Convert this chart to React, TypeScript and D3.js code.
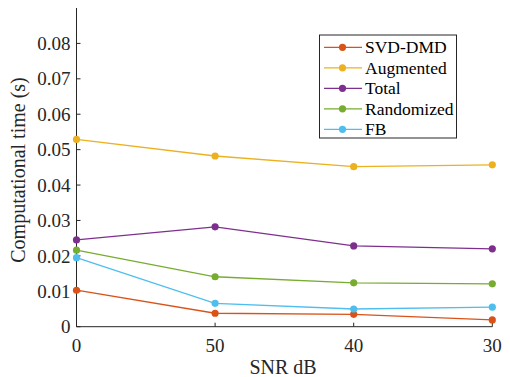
import React from "react";
import * as d3 from "d3";

const categories = ["0", "50", "40", "30"];
const yTicks = [0, 0.01, 0.02, 0.03, 0.04, 0.05, 0.06, 0.07, 0.08];
const seriesNames = ["SVD-DMD", "Augmented", "Total", "Randomized", "FB"];
const seriesColors = ["#D95319", "#EDB120", "#7E2F8E", "#77AC30", "#4DBEEE"];
const svdDmd = [0.0103, 0.0038, 0.0035, 0.0019];
const augmented = [0.0529, 0.0482, 0.0452, 0.0457];
const total = [0.0245, 0.0282, 0.0228, 0.022];
const randomized = [0.0216, 0.0141, 0.0124, 0.0121];
const fb = [0.0195, 0.0066, 0.005, 0.0055];
const seriesValues = [svdDmd, augmented, total, randomized, fb];

export default function App() {
  const W = 510, H = 377;
  const left = 76.5, right = 492.3, top = 8, bottom = 326.7;
  const x = d3.scalePoint<string>().domain(categories).range([left, right]);
  const y = d3.scaleLinear().domain([0, 0.09]).range([bottom, top]);
  const line = d3.line<number>().x((_, i) => x(categories[i])!).y((d) => y(d));
  const axisColor = "#262626";
  const font = "Liberation Serif, Times New Roman, serif";
  const legX = 319.5, legY = 35, legW = 137, legH = 103;
  return (
    <svg width={W} height={H} style={{ position: "absolute", left: 0, top: 0, background: "#fff" }} fontFamily={font}>
      <line x1={left} x2={left} y1={top} y2={bottom} stroke={axisColor} strokeWidth={1} />
      <line x1={left} x2={right} y1={bottom} y2={bottom} stroke={axisColor} strokeWidth={1} />
      {yTicks.map((t) => (
        <g key={t}>
          <line x1={left} x2={left + 4} y1={y(t)} y2={y(t)} stroke={axisColor} />
          <text x={left - 6} y={y(t)} dy="0.35em" textAnchor="end" fontSize={19} fill={axisColor}>
            {t === 0 ? "0" : t.toFixed(2)}
          </text>
        </g>
      ))}
      {categories.map((c) => (
        <g key={c}>
          <line x1={x(c)} x2={x(c)} y1={bottom} y2={bottom - 4} stroke={axisColor} />
          <text x={x(c)} y={351.5} textAnchor="middle" fontSize={19} fill={axisColor}>
            {c}
          </text>
        </g>
      ))}
      <text x={283} y={374} textAnchor="middle" fontSize={20} fill={axisColor}>SNR dB</text>
      <text transform={`translate(25,170) rotate(-90)`} textAnchor="middle" fontSize={20} fill={axisColor}>
        Computational time (s)
      </text>
      {seriesValues.map((vals, si) => (
        <g key={si}>
          <path d={line(vals)!} fill="none" stroke={seriesColors[si]} strokeWidth={1.3} />
          {vals.map((v, i) => (
            <circle key={i} cx={x(categories[i])} cy={y(v)} r={3.6} fill={seriesColors[si]} />
          ))}
        </g>
      ))}
      <rect x={legX} y={legY} width={legW} height={legH} fill="#fff" stroke={axisColor} strokeWidth={1} />
      {seriesNames.map((n, i) => {
        const ry = 47.3 + i * 20.5;
        return (
          <g key={n}>
            <line x1={324} x2={362} y1={ry} y2={ry} stroke={seriesColors[i]} strokeWidth={1.3} />
            <circle cx={342.5} cy={ry} r={3.6} fill={seriesColors[i]} />
            <text x={365} y={ry} dy="0.35em" fontSize={17.5} fill="#000">{n}</text>
          </g>
        );
      })}
    </svg>
  );
}
